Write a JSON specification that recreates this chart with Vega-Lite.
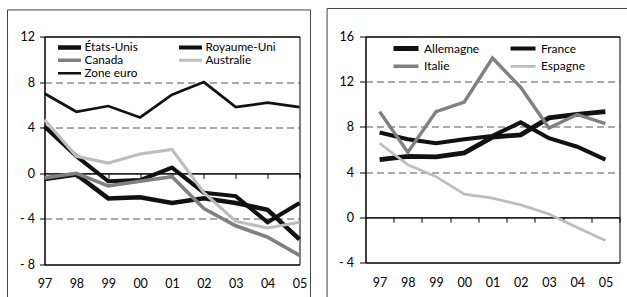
{
  "$schema": "https://vega.github.io/schema/vega-lite/v6.json",
  "padding": {"left": 6.5, "top": 6.5, "right": 0, "bottom": 0},
  "autosize": {"type": "pad"},
  "background": "white",
  "spacing": 14,
  "resolve": {"scale": {"color": "independent", "strokeWidth": "independent", "x": "independent", "y": "independent"}, "legend": {"color": "independent", "strokeWidth": "independent"}},
  "config": {
    "font": "Lato",
    "view": {"stroke": "black", "strokeWidth": 1},
    "axis": {"labelFont": "Lato", "labelFontSize": 12.5, "labelColor": "black", "tickColor": "black", "domainColor": "black", "title": null, "labelOverlap": false},
    "legend": {"labelFont": "Lato", "labelFontSize": 12, "labelColor": "black"}
  },
  "datasets": {
    "gauche": [
      {"pays": "États-Unis", "annee": 1997, "valeur": -0.5},
      {"pays": "États-Unis", "annee": 1998, "valeur": -0.1},
      {"pays": "États-Unis", "annee": 1999, "valeur": -2.2},
      {"pays": "États-Unis", "annee": 2000, "valeur": -2.1},
      {"pays": "États-Unis", "annee": 2001, "valeur": -2.6},
      {"pays": "États-Unis", "annee": 2002, "valeur": -2.2},
      {"pays": "États-Unis", "annee": 2003, "valeur": -2.6},
      {"pays": "États-Unis", "annee": 2004, "valeur": -3.2},
      {"pays": "États-Unis", "annee": 2005, "valeur": -5.8},
      {"pays": "Royaume-Uni", "annee": 1997, "valeur": 4.1},
      {"pays": "Royaume-Uni", "annee": 1998, "valeur": 1.5},
      {"pays": "Royaume-Uni", "annee": 1999, "valeur": -0.7},
      {"pays": "Royaume-Uni", "annee": 2000, "valeur": -0.6},
      {"pays": "Royaume-Uni", "annee": 2001, "valeur": 0.5},
      {"pays": "Royaume-Uni", "annee": 2002, "valeur": -1.7},
      {"pays": "Royaume-Uni", "annee": 2003, "valeur": -2.0},
      {"pays": "Royaume-Uni", "annee": 2004, "valeur": -4.3},
      {"pays": "Royaume-Uni", "annee": 2005, "valeur": -2.6},
      {"pays": "Canada", "annee": 1997, "valeur": -0.4},
      {"pays": "Canada", "annee": 1998, "valeur": 0.0},
      {"pays": "Canada", "annee": 1999, "valeur": -1.1},
      {"pays": "Canada", "annee": 2000, "valeur": -0.7},
      {"pays": "Canada", "annee": 2001, "valeur": -0.3},
      {"pays": "Canada", "annee": 2002, "valeur": -3.1},
      {"pays": "Canada", "annee": 2003, "valeur": -4.6},
      {"pays": "Canada", "annee": 2004, "valeur": -5.6},
      {"pays": "Canada", "annee": 2005, "valeur": -7.2},
      {"pays": "Australie", "annee": 1997, "valeur": 4.7},
      {"pays": "Australie", "annee": 1998, "valeur": 1.5},
      {"pays": "Australie", "annee": 1999, "valeur": 0.9},
      {"pays": "Australie", "annee": 2000, "valeur": 1.7},
      {"pays": "Australie", "annee": 2001, "valeur": 2.1},
      {"pays": "Australie", "annee": 2002, "valeur": -1.7},
      {"pays": "Australie", "annee": 2003, "valeur": -4.2},
      {"pays": "Australie", "annee": 2004, "valeur": -4.8},
      {"pays": "Australie", "annee": 2005, "valeur": -4.3},
      {"pays": "Zone euro", "annee": 1997, "valeur": 7.0},
      {"pays": "Zone euro", "annee": 1998, "valeur": 5.4},
      {"pays": "Zone euro", "annee": 1999, "valeur": 5.9},
      {"pays": "Zone euro", "annee": 2000, "valeur": 4.9},
      {"pays": "Zone euro", "annee": 2001, "valeur": 6.9},
      {"pays": "Zone euro", "annee": 2002, "valeur": 8.0},
      {"pays": "Zone euro", "annee": 2003, "valeur": 5.8},
      {"pays": "Zone euro", "annee": 2004, "valeur": 6.2},
      {"pays": "Zone euro", "annee": 2005, "valeur": 5.8}
    ],
    "droite": [
      {"pays": "Allemagne", "annee": 1997, "valeur": 5.1},
      {"pays": "Allemagne", "annee": 1998, "valeur": 5.4},
      {"pays": "Allemagne", "annee": 1999, "valeur": 5.35},
      {"pays": "Allemagne", "annee": 2000, "valeur": 5.7},
      {"pays": "Allemagne", "annee": 2001, "valeur": 7.1},
      {"pays": "Allemagne", "annee": 2002, "valeur": 7.3},
      {"pays": "Allemagne", "annee": 2003, "valeur": 8.8},
      {"pays": "Allemagne", "annee": 2004, "valeur": 9.1},
      {"pays": "Allemagne", "annee": 2005, "valeur": 9.35},
      {"pays": "France", "annee": 1997, "valeur": 7.5},
      {"pays": "France", "annee": 1998, "valeur": 6.9},
      {"pays": "France", "annee": 1999, "valeur": 6.55},
      {"pays": "France", "annee": 2000, "valeur": 6.9},
      {"pays": "France", "annee": 2001, "valeur": 7.2},
      {"pays": "France", "annee": 2002, "valeur": 8.4},
      {"pays": "France", "annee": 2003, "valeur": 7.0},
      {"pays": "France", "annee": 2004, "valeur": 6.25},
      {"pays": "France", "annee": 2005, "valeur": 5.1},
      {"pays": "Italie", "annee": 1997, "valeur": 9.35},
      {"pays": "Italie", "annee": 1998, "valeur": 5.75},
      {"pays": "Italie", "annee": 1999, "valeur": 9.35},
      {"pays": "Italie", "annee": 2000, "valeur": 10.2},
      {"pays": "Italie", "annee": 2001, "valeur": 14.1},
      {"pays": "Italie", "annee": 2002, "valeur": 11.5},
      {"pays": "Italie", "annee": 2003, "valeur": 7.9},
      {"pays": "Italie", "annee": 2004, "valeur": 9.1},
      {"pays": "Italie", "annee": 2005, "valeur": 8.3},
      {"pays": "Espagne", "annee": 1997, "valeur": 6.55},
      {"pays": "Espagne", "annee": 1998, "valeur": 4.65},
      {"pays": "Espagne", "annee": 1999, "valeur": 3.6},
      {"pays": "Espagne", "annee": 2000, "valeur": 2.05},
      {"pays": "Espagne", "annee": 2001, "valeur": 1.7},
      {"pays": "Espagne", "annee": 2002, "valeur": 1.1},
      {"pays": "Espagne", "annee": 2003, "valeur": 0.3},
      {"pays": "Espagne", "annee": 2004, "valeur": -0.9},
      {"pays": "Espagne", "annee": 2005, "valeur": -2.05}
    ]
  },
  "hconcat": [
    {
      "width": 255,
      "height": 228,
      "layer": [
        {
          "data": {"name": "gauche"},
          "mark": {"type": "line", "strokeJoin": "miter"},
          "encoding": {
            "x": {
              "field": "annee", "type": "quantitative",
              "scale": {"domain": [1997, 2005], "nice": false, "zero": false},
              "axis": {
                "values": [1997, 1998, 1999, 2000, 2001, 2002, 2003, 2004, 2005],
                "offset": -91.2, "domain": true, "domainColor": "black", "domainWidth": 1,
                "ticks": true, "tickSize": 5, "tickColor": "black",
                "labelPadding": 99, "labelFlush": false, "labelOverlap": false,
                "labelExpr": "substring(toString(datum.value), 2)",
                "grid": false, "title": null
              }
            },
            "y": {
              "field": "valeur", "type": "quantitative",
              "scale": {"domain": [-8, 12], "nice": false, "zero": false},
              "axis": {
                "values": [-8, -4, 0, 4, 8, 12],
                "domain": true, "ticks": true, "tickSize": 5, "labelPadding": 5,
                "labelExpr": "datum.value < 0 ? '- ' + abs(datum.value) : datum.label",
                "grid": true,
                "gridColor": {"condition": {"test": "datum.value === 0 || datum.value === -8 || datum.value === 12", "value": "black"}, "value": "#555555"},
                "gridDash": {"condition": {"test": "datum.value === 0 || datum.value === -8 || datum.value === 12", "value": []}, "value": [7, 4]},
                "title": null
              }
            },
            "color": {
              "field": "pays", "type": "nominal",
              "scale": {"domain": ["États-Unis", "Royaume-Uni", "Canada", "Australie", "Zone euro"], "range": ["#111111", "#111111", "#808080", "#bdbdbd", "#111111"]},
              "legend": {"orient": "none", "direction": "horizontal", "legendX": 11, "legendY": 5, "columns": 2, "title": null, "symbolType": "stroke", "symbolSize": 529, "clipHeight": 11.5, "rowPadding": 0, "columnPadding": 38, "labelOffset": 1, "padding": 0, "gridAlign": "each", "labelFontSize": 11.8}
            },
            "strokeWidth": {
              "field": "pays", "type": "nominal",
              "scale": {"domain": ["États-Unis", "Royaume-Uni", "Canada", "Australie", "Zone euro"], "range": [4.5, 2.7, 3, 3, 1.2]},
              "legend": {"orient": "none", "direction": "horizontal", "legendX": 11, "legendY": 5, "columns": 2, "title": null, "symbolType": "stroke", "symbolSize": 529, "clipHeight": 11.5, "rowPadding": 0, "columnPadding": 38, "labelOffset": 1, "padding": 0, "gridAlign": "each", "labelFontSize": 11.8}
            }
          }
        },
        {
          "data": {"values": [{}]},
          "mark": {"type": "rule", "color": "#444444", "strokeWidth": 1},
          "encoding": {
            "x": {"datum": 1995.84, "type": "quantitative", "axis": {"values": [1997, 1998, 1999, 2000, 2001, 2002, 2003, 2004, 2005], "offset": -91.2, "labelPadding": 99, "labelFlush": false, "labelOverlap": false, "labelExpr": "substring(toString(datum.value), 2)", "grid": false, "title": null, "tickSize": 5}},
            "y": {"datum": 14.33, "type": "quantitative"},
            "y2": {"datum": -11.1}
          }
        },
        {
          "data": {"values": [{}]},
          "mark": {"type": "rule", "color": "#444444", "strokeWidth": 1},
          "encoding": {
            "x": {"datum": 2005.345, "type": "quantitative", "axis": {"values": [1997, 1998, 1999, 2000, 2001, 2002, 2003, 2004, 2005], "offset": -91.2, "labelPadding": 99, "labelFlush": false, "labelOverlap": false, "labelExpr": "substring(toString(datum.value), 2)", "grid": false, "title": null, "tickSize": 5}},
            "y": {"datum": 14.33, "type": "quantitative"},
            "y2": {"datum": -11.1}
          }
        },
        {
          "data": {"values": [{}]},
          "mark": {"type": "rule", "color": "#444444", "strokeWidth": 1},
          "encoding": {
            "x": {"datum": 1995.84, "type": "quantitative", "axis": {"values": [1997, 1998, 1999, 2000, 2001, 2002, 2003, 2004, 2005], "offset": -91.2, "labelPadding": 99, "labelFlush": false, "labelOverlap": false, "labelExpr": "substring(toString(datum.value), 2)", "grid": false, "title": null, "tickSize": 5}},
            "x2": {"datum": 2005.345},
            "y": {"datum": 14.33, "type": "quantitative"}
          }
        }
      ]
    },
    {
      "width": 254,
      "height": 226,
      "layer": [
        {
          "data": {"name": "droite"},
          "mark": {"type": "line", "strokeJoin": "miter"},
          "encoding": {
            "x": {
              "field": "annee", "type": "quantitative",
              "scale": {"domain": [1996.5, 2005.5], "nice": false, "zero": false},
              "axis": {
                "values": [1997, 1998, 1999, 2000, 2001, 2002, 2003, 2004, 2005],
                "offset": -45.2, "domain": true, "domainColor": "black", "domainWidth": 1,
                "ticks": true, "tickSize": 5, "tickColor": "black",
                "tickOffset": 14.11, "labelOffset": -14.11,
                "labelPadding": 54, "labelFlush": false, "labelOverlap": false,
                "labelExpr": "substring(toString(datum.value), 2)",
                "grid": false, "title": null
              }
            },
            "y": {
              "field": "valeur", "type": "quantitative",
              "scale": {"domain": [-4, 16], "nice": false, "zero": false},
              "axis": {
                "values": [-4, 0, 4, 8, 12, 16],
                "domain": true, "ticks": true, "tickSize": 6, "labelPadding": 6,
                "labelExpr": "datum.value < 0 ? '- ' + abs(datum.value) : datum.label",
                "grid": true,
                "gridColor": {"condition": {"test": "datum.value === 0 || datum.value === -4 || datum.value === 16", "value": "black"}, "value": "#555555"},
                "gridDash": {"condition": {"test": "datum.value === 0 || datum.value === -4 || datum.value === 16", "value": []}, "value": [7, 4]},
                "title": null
              }
            },
            "color": {
              "field": "pays", "type": "nominal",
              "scale": {"domain": ["Allemagne", "France", "Italie", "Espagne"], "range": ["#111111", "#111111", "#808080", "#bdbdbd"]},
              "legend": {"orient": "none", "direction": "horizontal", "legendX": 25.5, "legendY": 3, "columns": 2, "title": null, "symbolType": "stroke", "symbolSize": 625, "clipHeight": 17.6, "rowPadding": 0, "columnPadding": 28, "labelOffset": 3, "padding": 0, "gridAlign": "each", "labelFontSize": 12}
            },
            "strokeWidth": {
              "field": "pays", "type": "nominal",
              "scale": {"domain": ["Allemagne", "France", "Italie", "Espagne"], "range": [4.8, 2.7, 3, 3]},
              "legend": {"orient": "none", "direction": "horizontal", "legendX": 25.5, "legendY": 3, "columns": 2, "title": null, "symbolType": "stroke", "symbolSize": 625, "clipHeight": 17.6, "rowPadding": 0, "columnPadding": 28, "labelOffset": 3, "padding": 0, "gridAlign": "each", "labelFontSize": 12}
            }
          }
        },
        {
          "data": {"values": [{}]},
          "mark": {"type": "rule", "color": "#444444", "strokeWidth": 1},
          "encoding": {
            "x": {"datum": 1995.139, "type": "quantitative", "axis": {"values": [1997, 1998, 1999, 2000, 2001, 2002, 2003, 2004, 2005], "offset": -45.2, "tickOffset": 14.11, "labelOffset": -14.11, "labelPadding": 54, "labelFlush": false, "labelOverlap": false, "labelExpr": "substring(toString(datum.value), 2)", "grid": false, "title": null, "tickSize": 5}},
            "y": {"datum": 18.478, "type": "quantitative"},
            "y2": {"datum": -7.19}
          }
        },
        {
          "data": {"values": [{}]},
          "mark": {"type": "rule", "color": "#444444", "strokeWidth": 1},
          "encoding": {
            "x": {"datum": 1995.139, "type": "quantitative", "axis": {"values": [1997, 1998, 1999, 2000, 2001, 2002, 2003, 2004, 2005], "offset": -45.2, "tickOffset": 14.11, "labelOffset": -14.11, "labelPadding": 54, "labelFlush": false, "labelOverlap": false, "labelExpr": "substring(toString(datum.value), 2)", "grid": false, "title": null, "tickSize": 5}},
            "x2": {"datum": 2005.9},
            "y": {"datum": 18.478, "type": "quantitative"}
          }
        }
      ]
    }
  ]
}
